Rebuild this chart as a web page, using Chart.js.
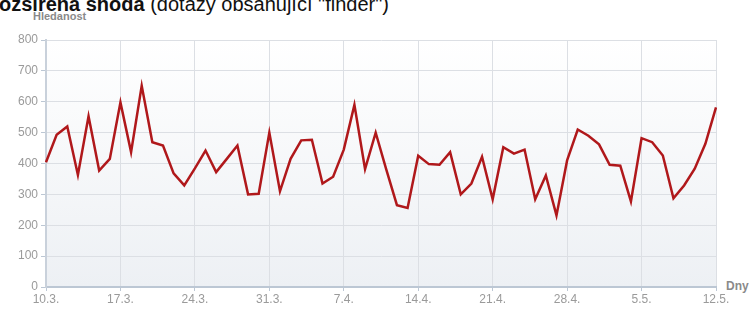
<!DOCTYPE html>
<html>
<head>
<meta charset="utf-8">
<script src="https://cdn.jsdelivr.net/npm/chart.js@4"></script>
<style>
  html, body { margin:0; padding:0; background:#fff; }
  #wrap { position:relative; width:752px; height:311px; overflow:hidden; font-family:Arial, "Liberation Sans", sans-serif; }
  #title { position:absolute; left:-1px; top:-7px; font-size:20px; color:#111; white-space:nowrap; }
  #title b { font-weight:bold; }
  #ylab { position:absolute; left:33px; top:10px; font-size:11px; font-weight:bold; color:#8a8a8a; }
  #xlab { position:absolute; left:726px; top:279px; font-size:12px; font-weight:bold; color:#8a8a8a; }
  canvas { position:absolute; left:0; top:0; }
</style>
</head>
<body>
<div id="wrap">
  <div id="title"><b>ozšířená shoda</b> (dotazy obsahující "finder")</div>
  <div id="ylab">Hledanost</div>
  <div id="xlab">Dny</div>
  <canvas id="hledanostChart" width="752" height="311"></canvas>
</div>
<script>
const days = [
  '10.3.','11.3.','12.3.','13.3.','14.3.','15.3.','16.3.','17.3.','18.3.','19.3.','20.3.','21.3.','22.3.','23.3.',
  '24.3.','25.3.','26.3.','27.3.','28.3.','29.3.','30.3.','31.3.','1.4.','2.4.','3.4.','4.4.','5.4.','6.4.',
  '7.4.','8.4.','9.4.','10.4.','11.4.','12.4.','13.4.','14.4.','15.4.','16.4.','17.4.','18.4.','19.4.','20.4.',
  '21.4.','22.4.','23.4.','24.4.','25.4.','26.4.','27.4.','28.4.','29.4.','30.4.','1.5.','2.5.','3.5.','4.5.',
  '5.5.','6.5.','7.5.','8.5.','9.5.','10.5.','11.5.','12.5.'
];
const hledanost = [
  404, 493, 520, 363, 553, 377, 415, 598, 437, 652, 469, 458, 368, 329,
  384, 442, 372, 415, 458, 300, 302, 500, 310, 415, 475, 477, 335, 357,
  445, 590, 382, 500, 380, 265, 256, 425, 398, 396, 437, 300, 335, 422,
  284, 453, 432, 445, 284, 361, 232, 410, 510, 490, 462, 396, 393, 277,
  482, 469, 426, 287, 329, 383, 464, 582
];
const tickLabels = ['10.3.','17.3.','24.3.','31.3.','7.4.','14.4.','21.4.','28.4.','5.5.','12.5.'];

const plotBg = {
  id: 'plotBg',
  beforeDraw(chart) {
    const a = chart.chartArea, c = chart.ctx;
    const g = c.createLinearGradient(0, a.top, 0, a.bottom);
    g.addColorStop(0, '#ffffff');
    g.addColorStop(1, '#edf0f4');
    c.save();
    c.fillStyle = g;
    c.fillRect(a.left, a.top, a.right - a.left, a.bottom - a.top);
    c.restore();
  }
};

const ctx = document.getElementById('hledanostChart').getContext('2d');
new Chart(ctx, {
  type: 'line',
  data: {
    labels: days,
    datasets: [{
      data: hledanost,
      borderColor: '#b0181b',
      borderWidth: 2.5,
      pointRadius: 0,
      tension: 0,
      fill: false
    }]
  },
  options: {
    responsive: false,
    animation: false,
    layout: { padding: { top: 40, right: 36, left: 0, bottom: 0 } },
    plugins: { legend: { display: false }, tooltip: { enabled: false } },
    scales: {
      x: {
        afterFit(s) { s.height = 24; },
        border: { color: '#bcc7d4', width: 2 },
        grid: {
          color: c => (c.index % 7 === 0 ? '#dcdfe4' : 'rgba(0,0,0,0)'),
          tickColor: c => (c.index % 7 === 0 ? '#bcc7d4' : 'rgba(0,0,0,0)'),
          tickLength: 4
        },
        ticks: {
          autoSkip: false,
          maxRotation: 0,
          padding: 1,
          color: '#9a9a9a',
          font: { family: 'Arial', size: 12 },
          callback: (v, i) => (i % 7 === 0 ? tickLabels[i / 7] : '')
        }
      },
      y: {
        min: 0,
        max: 800,
        afterFit(s) { s.width = 46; },
        border: { color: '#c9d1db', width: 2 },
        grid: { color: '#dcdfe4', tickColor: '#bcc7d4', tickLength: 5 },
        ticks: {
          stepSize: 100,
          padding: 3,
          color: '#9a9a9a',
          font: { family: 'Arial', size: 12 }
        }
      }
    }
  },
  plugins: [plotBg]
});
</script>
</body>
</html>
